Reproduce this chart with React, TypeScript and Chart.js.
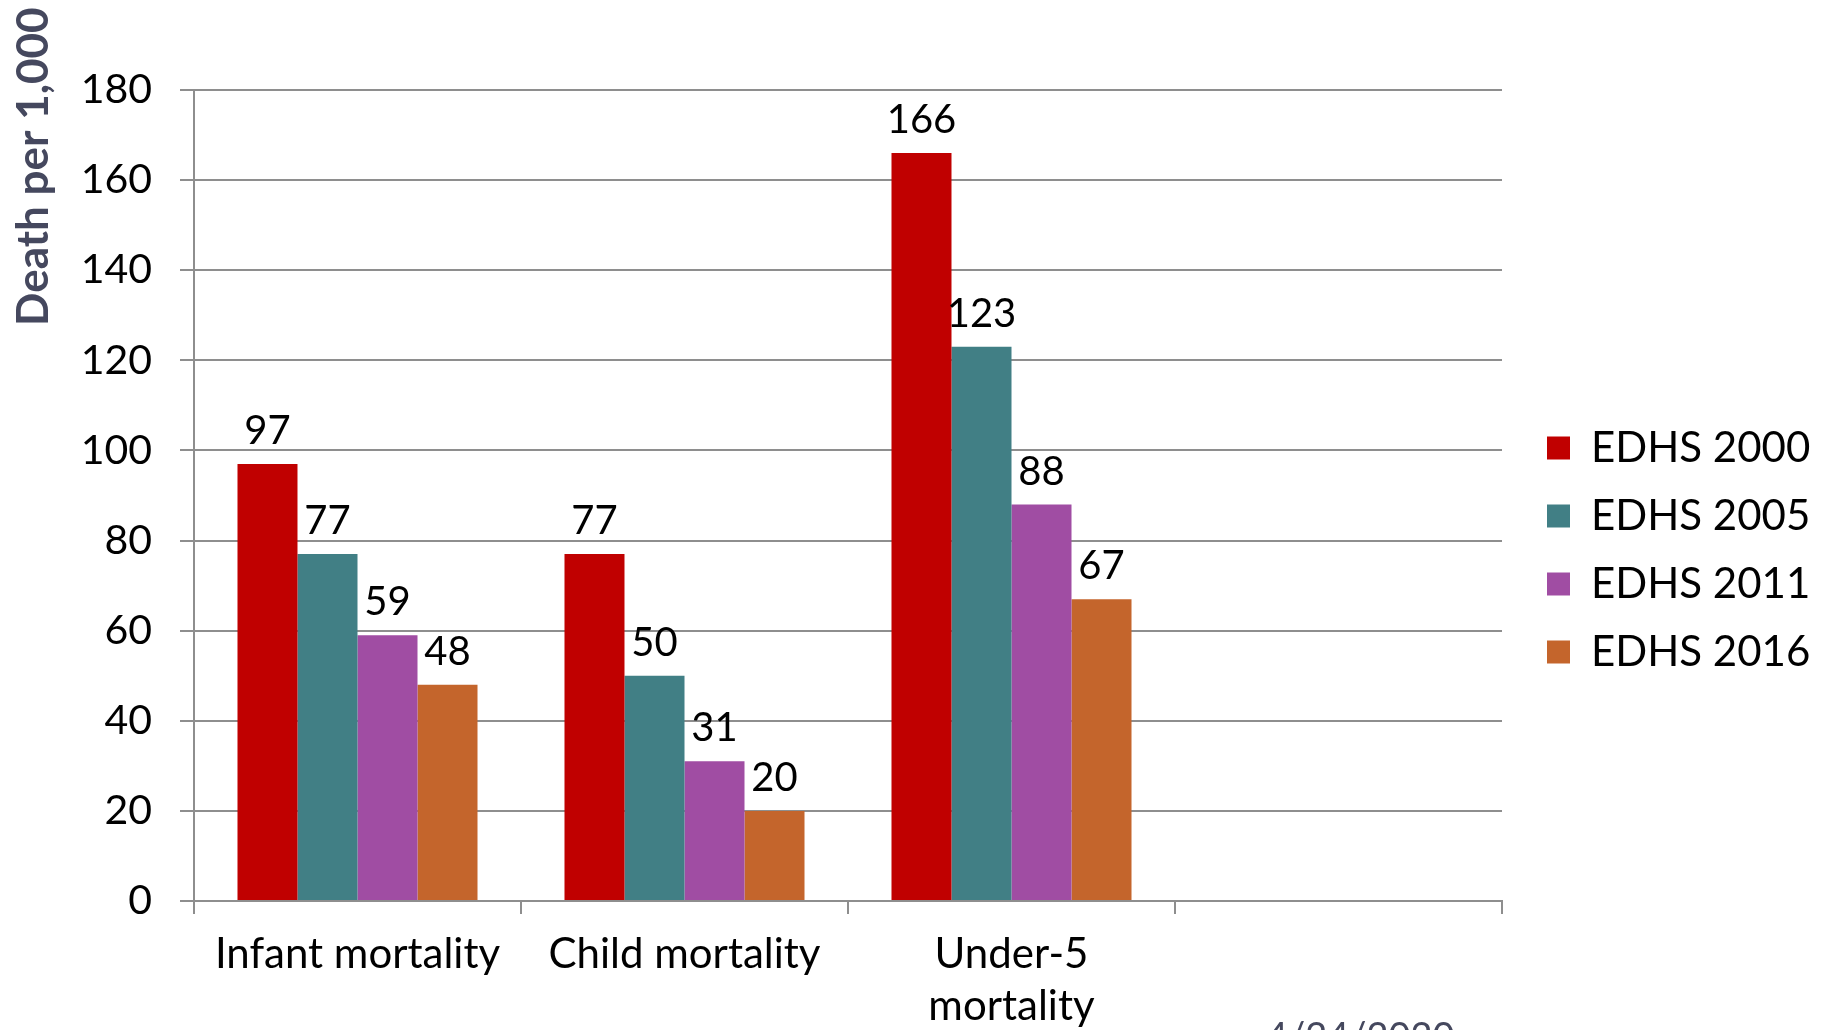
import React, { useEffect, useRef } from "react";
import { Chart, registerables } from "chart.js";

Chart.register(...registerables);

// ---- Data ----
const categories: (string | string[])[] = [
  "Infant mortality",
  "Child mortality",
  ["Under-5", "mortality"],
  "",
];
const seriesLabels = ["EDHS 2000", "EDHS 2005", "EDHS 2011", "EDHS 2016"];
const edhs2000 = [97, 77, 166, null];
const edhs2005 = [77, 50, 123, null];
const edhs2011 = [59, 31, 88, null];
const edhs2016 = [48, 20, 67, null];
const seriesColors = ["#C00000", "#417F85", "#A04DA3", "#C4652C"];
const yMin = 0;
const yMax = 180;
const yStep = 20;
const yTitle = "Death per 1,000";
const dateText = "4/24/2020";

const FONT = "Lato, 'Noto Sans', sans-serif";
const GRID = "#8E8E8E";

const valueLabels = {
  id: "valueLabels",
  afterDatasetsDraw(chart: any) {
    const ctx = chart.ctx;
    ctx.save();
    ctx.font = `40px ${FONT}`;
    ctx.fillStyle = "#000";
    ctx.textAlign = "center";
    ctx.textBaseline = "alphabetic";
    chart.data.datasets.forEach((ds: any, i: number) => {
      const meta = chart.getDatasetMeta(i);
      meta.data.forEach((bar: any, j: number) => {
        const v = ds.data[j];
        if (v == null) return;
        ctx.fillText(String(v), bar.x, bar.y - 20);
      });
    });
    ctx.restore();
  },
};

const extraText = {
  id: "extraText",
  afterDraw(chart: any) {
    const ctx = chart.ctx;
    ctx.save();
    // rotated y-axis title, anchored near the top
    ctx.translate(48, 326);
    ctx.rotate(-Math.PI / 2);
    ctx.font = `bold 44px ${FONT}`;
    ctx.fillStyle = "#45485E";
    ctx.textAlign = "left";
    ctx.textBaseline = "alphabetic";
    ctx.fillText(yTitle, 0, 0);
    ctx.restore();

    ctx.save();
    ctx.font = `38px ${FONT}`;
    ctx.fillStyle = "#45485E";
    ctx.textAlign = "left";
    ctx.textBaseline = "alphabetic";
    ctx.fillText(dateText, 1266, 1050);
    ctx.restore();
  },
};

const legendLayout = {
  id: "legendLayout",
  beforeLayout(chart: any) {
    const lg = chart.legend;
    if (lg && !lg.__patched) {
      const orig = lg.fit.bind(lg);
      lg.fit = function () {
        orig();
        this.width = 322;
      };
      lg.__patched = true;
    }
  },
  afterLayout(chart: any) {
    const lg = chart.legend;
    if (!lg) return;
    lg.left = chart.chartArea.right + 19;
    lg.right = lg.left + 322;
    lg.top = 70;
    lg.bottom = 1030;
  },
};

export default function App() {
  const ref = useRef<HTMLCanvasElement | null>(null);

  useEffect(() => {
    document.body.style.margin = "0";
    if (!ref.current) return;
    const series = [edhs2000, edhs2005, edhs2011, edhs2016];
    const chart = new Chart(ref.current, {
      type: "bar",
      data: {
        labels: categories as any,
        datasets: series.map((d, i) => ({
          label: seriesLabels[i],
          data: d as any,
          backgroundColor: seriesColors[i],
          borderWidth: 0,
          categoryPercentage: 0.734,
          barPercentage: 1.0,
        })),
      },
      options: {
        animation: false,
        responsive: false,
        devicePixelRatio: 1,
        layout: { padding: { top: 90, left: 0, right: 0, bottom: 0 } },
        plugins: {
          tooltip: { enabled: false },
          title: { display: false },
          legend: {
            display: true,
            position: "right",
            align: "center",
            labels: {
              boxWidth: 23,
              boxHeight: 23,
              padding: 26,
              color: "#000",
              font: { family: FONT, size: 42 },
            },
          },
        },
        scales: {
          x: {
            offset: true,
            grid: {
              display: true,
              offset: true,
              drawOnChartArea: false,
              drawTicks: true,
              tickLength: 13,
              color: GRID,
              lineWidth: 2,
            },
            border: { display: true, color: GRID, width: 2 },
            ticks: {
              color: "#000",
              padding: 14,
              autoSkip: false,
              maxRotation: 0,
              minRotation: 0,
              font: { family: FONT, size: 42, lineHeight: 1.25 },
            },
            afterFit(scale: any) {
              scale.height = 129;
            },
          },
          y: {
            min: yMin,
            max: yMax,
            ticks: {
              stepSize: yStep,
              color: "#000",
              padding: 28,
              font: { family: FONT, size: 41 },
            },
            grid: {
              color: GRID,
              lineWidth: 2,
              tickLength: 14,
              drawTicks: true,
            },
            border: { display: true, color: GRID, width: 2 },
            afterFit(scale: any) {
              scale.width = 194;
            },
          },
        },
      },
      plugins: [valueLabels, extraText, legendLayout],
    });
    return () => chart.destroy();
  }, []);

  return (
    <div style={{ width: 1824, height: 1030, background: "#fff" }}>
      <canvas ref={ref} width={1824} height={1030} style={{ display: "block" }} />
    </div>
  );
}
